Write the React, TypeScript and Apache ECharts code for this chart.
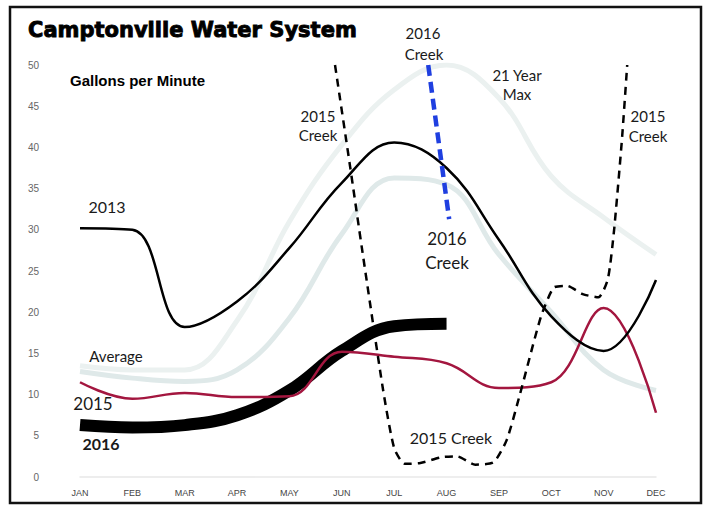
import React, { useEffect, useRef } from "react";
import * as echarts from "echarts";

const months = ["JAN", "FEB", "MAR", "APR", "MAY", "JUN", "JUL", "AUG", "SEP", "OCT", "NOV", "DEC"];
const yMin = 0;
const yMax = 50;
const yStep = 5;

const maxValues = [13.5, 13, 13, 19, 31, 40.3, 47, 50, 46, 36.5, 31.5, 27];
const avgValues = [12.8, 12.0, 11.6, 13, 19.3, 29.5, 36.3, 35.5, 27, 20, 13, 10.5];
const y2013 = [30.2, 30.0, 18.2, 21.3, 27.8, 35.7, 40.6, 37.5, 28.8, 19.5, 15.3, 23.9];
const y2015 = [11.5, 9.5, 10.2, 9.7, 9.8, 15.2, 14.6, 13.8, 10.8, 11.5, 20.5, 7.8];
const y2016 = [6.3, 6.0, 6.3, 7.5, 10.5, 15.3, 18.3, 18.6];
// creek readings: [month index (JAN = 0), gallons per minute]
const creek2015: [number, number][] = [
  [4.87, 50], [5.16, 37.6], [5.39, 27.5], [5.79, 10.5], [6.0, 3.5], [6.2, 1.6],
  [6.5, 1.7], [6.9, 2.4], [7.2, 2.5], [7.55, 1.5], [7.9, 1.8], [8.15, 4.5],
  [8.4, 10], [8.8, 19.4], [9.05, 23], [9.3, 23.2], [9.6, 22.2], [9.9, 21.8],
  [10.08, 24], [10.2, 30], [10.35, 41], [10.45, 50],
];
const creek2016: [number, number][] = [[6.65, 50], [7.05, 31.3]];

const annotations = [
  { text: "2015", x: 318, y: 116, size: 15, weight: "normal" },
  { text: "Creek", x: 318, y: 135, size: 15, weight: "normal" },
  { text: "2016", x: 423, y: 33, size: 15, weight: "normal" },
  { text: "Creek", x: 424, y: 54, size: 15, weight: "normal" },
  { text: "21 Year", x: 517, y: 75, size: 15, weight: "normal" },
  { text: "Max", x: 517, y: 94, size: 15, weight: "normal" },
  { text: "2015", x: 648, y: 116, size: 15, weight: "normal" },
  { text: "Creek", x: 648, y: 136, size: 15, weight: "normal" },
  { text: "2016", x: 447, y: 238, size: 17, weight: "normal" },
  { text: "Creek", x: 447, y: 262, size: 17, weight: "normal" },
  { text: "2013", x: 107, y: 206, size: 16, weight: "normal" },
  { text: "Average", x: 116, y: 356, size: 15, weight: "normal" },
  { text: "2015", x: 93, y: 403, size: 17, weight: "normal" },
  { text: "2016", x: 101, y: 443, size: 16, weight: "bold" },
  { text: "2015 Creek", x: 451, y: 437, size: 16, weight: "normal" },
];

export default function App() {
  const ref = useRef<HTMLDivElement>(null);
  useEffect(() => {
    if (!ref.current) return;
    const chart = echarts.init(ref.current, null, { renderer: "svg" });
    const textFont = "Lato, 'Open Sans', sans-serif";
    chart.setOption({
      animation: false,
      backgroundColor: "#ffffff",
      grid: { left: 80, right: 53, top: 65, bottom: 31 },
      xAxis: [
        {
          type: "category",
          data: months,
          boundaryGap: false,
          axisLine: { show: true, lineStyle: { color: "#e8e8e8", width: 1.5 } },
          axisTick: { show: false },
          axisLabel: {
            margin: 11,
            fontSize: 9,
            color: "#444",
            fontFamily: "'Liberation Sans Narrow', 'Liberation Sans', sans-serif",
          },
          splitLine: { show: false },
        },
        { type: "value", min: 0, max: 11, show: false },
      ],
      yAxis: {
        type: "value",
        min: yMin,
        max: yMax,
        interval: yStep,
        axisLine: { show: false },
        axisTick: { show: false },
        splitLine: { show: false },
        axisLabel: {
          margin: 41,
          fontSize: 10,
          color: "#666",
          fontFamily: "'Liberation Sans Narrow', 'Liberation Sans', sans-serif",
        },
      },
      series: [
        {
          name: "21 Year Max",
          type: "line",
          data: maxValues,
          smooth: 0.4,
          symbol: "none",
          lineStyle: { color: "#ebf1f0", width: 5 },
        },
        {
          name: "Average",
          type: "line",
          data: avgValues,
          smooth: 0.4,
          symbol: "none",
          lineStyle: { color: "#dfe9e9", width: 5 },
        },
        {
          name: "2016",
          type: "line",
          data: y2016,
          smooth: 0.4,
          symbol: "none",
          lineStyle: { color: "#000000", width: 12, cap: "butt" },
        },
        {
          name: "2015",
          type: "line",
          data: y2015,
          smooth: 0.4,
          symbol: "none",
          lineStyle: { color: "#a3163f", width: 2.5 },
        },
        {
          name: "2013",
          type: "line",
          data: y2013,
          smooth: 0.4,
          symbol: "none",
          lineStyle: { color: "#000000", width: 2.5 },
        },
        {
          name: "2015 Creek",
          type: "line",
          xAxisIndex: 1,
          data: creek2015,
          smooth: 0.2,
          symbol: "none",
          lineStyle: { color: "#000000", width: 2.5, type: [8, 6] },
        },
        {
          name: "2016 Creek",
          type: "line",
          xAxisIndex: 1,
          data: creek2016,
          symbol: "none",
          lineStyle: { color: "#1f3fe0", width: 4.5, type: [11, 6] },
        },
      ],
      graphic: [
        {
          type: "rect",
          shape: { x: 10, y: 7, width: 691, height: 496 },
          style: { fill: "none", stroke: "#111", lineWidth: 2.5 },
          silent: true,
        },
        {
          type: "text",
          x: 28,
          y: 30,
          style: {
            text: "Camptonville Water System",
            fontFamily: "'DejaVu Sans', sans-serif",
            fontWeight: "bold",
            fontSize: 21,
            fill: "#000",
            stroke: "#000",
            lineWidth: 0.9,
            textVerticalAlign: "middle",
          },
        },
        {
          type: "text",
          x: 70,
          y: 80,
          style: {
            text: "Gallons per Minute",
            fontFamily: "'Liberation Sans', Arial, sans-serif",
            fontWeight: "bold",
            fontSize: 15,
            fill: "#000",
            textVerticalAlign: "middle",
          },
        },
        ...annotations.map((a) => ({
          type: "text",
          x: a.x,
          y: a.y,
          style: {
            text: a.text,
            fontFamily: textFont,
            fontSize: a.size,
            fontWeight: a.weight,
            fill: "#1a1a1a",
            textAlign: "center",
            textVerticalAlign: "middle",
          },
        })),
      ],
    });
    return () => chart.dispose();
  }, []);
  return (
    <div
      ref={ref}
      style={{ position: "fixed", left: 0, top: 0, width: 709, height: 508 }}
    />
  );
}
